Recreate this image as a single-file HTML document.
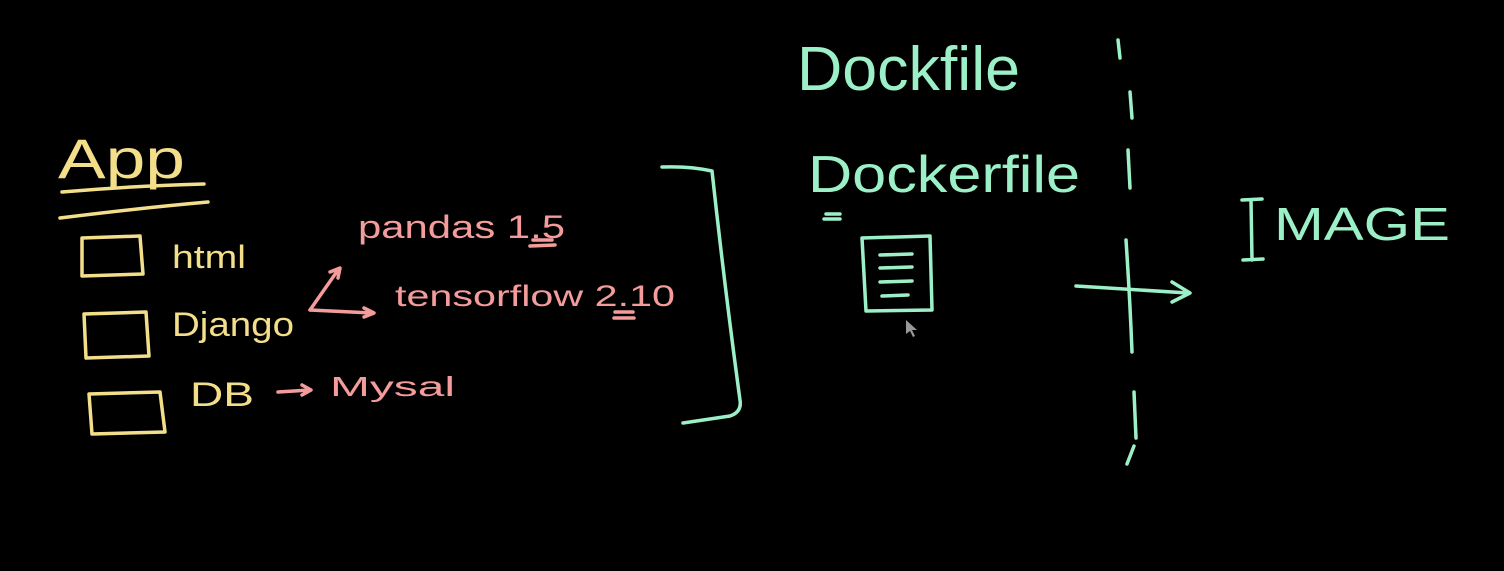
<!DOCTYPE html>
<html><head><meta charset="utf-8"><style>
html,body{margin:0;padding:0;background:#000;width:1504px;height:571px;overflow:hidden}
svg{display:block}
text{font-family:"Liberation Sans",sans-serif}
</style></head><body>
<svg width="1504" height="571" viewBox="0 0 1504 571" xmlns="http://www.w3.org/2000/svg">
<rect width="1504" height="571" fill="#000"/>
<g fill="none" stroke-linecap="round" stroke-linejoin="round" stroke-width="3.5">
<g stroke="#f3de8a">
<path d="M62 192 Q130 186 204 184"/>
<path d="M60 218 Q140 208 208 202"/>
<path d="M82 238 L140 236 L143 274 L82 276 Z"/>
<path d="M84 314 L146 312 L149 356 L86 358 Z"/>
<path d="M89 394 L160 392 L165 432 L92 434 Z"/>
</g>
<g stroke="#f49c9c">
<path d="M310 310 L338 270 M330 272 L340 268 L338 278"/>
<path d="M310 310 L372 313 M364 308 L374 313 L364 317"/>
<path d="M278 392 L310 390 M302 385 L311 390 L302 395"/>
<path d="M533 240 L552 240 M530 246 L555 245"/>
<path d="M615 312 L633 312 M614 318 L634 318"/>
</g>
<g stroke="#9cf0c8">
<path d="M662 167 Q690 166 712 171 Q725 290 740 400 Q742 412 730 416 L683 423"/>
<path d="M862 238 L930 236 L932 310 L866 311 Z"/>
<path d="M880 255 L912 254 M880 268 L912 267 M880 282 L912 281 M882 296 L908 295"/>
<path d="M826 214 L840 214 M824 219 L840 219"/>
<path d="M1118 40 L1120 58 M1130 92 L1132 118 M1128 150 L1130 188 M1126 240 Q1130 300 1132 352 M1134 392 L1136 438 M1134 446 L1127 464"/>
<path d="M1076 286 L1188 293 M1172 282 L1190 293 L1172 302"/>
<path d="M1242 200 L1262 199 M1251 200 L1252 260 M1243 260 L1263 259"/>
</g>
</g>
<g fill="#f3de8a">
<text x="58" y="178" font-size="56" textLength="127" lengthAdjust="spacingAndGlyphs">App</text>
<text x="172" y="268" font-size="32" textLength="74" lengthAdjust="spacingAndGlyphs">html</text>
<text x="172" y="336" font-size="34" textLength="122" lengthAdjust="spacingAndGlyphs">Django</text>
<text x="190" y="406" font-size="34" textLength="64" lengthAdjust="spacingAndGlyphs">DB</text>
</g>
<g fill="#f49c9c">
<text x="358" y="238" font-size="32" textLength="207" lengthAdjust="spacingAndGlyphs">pandas 1.5</text>
<text x="395" y="306" font-size="30" textLength="280" lengthAdjust="spacingAndGlyphs">tensorflow 2.10</text>
<text x="330" y="396" font-size="28" textLength="125" lengthAdjust="spacingAndGlyphs">Mysal</text>
</g>
<g fill="#9cf0c8">
<text x="797" y="90" font-size="62" textLength="223" lengthAdjust="spacingAndGlyphs">Dockfile</text>
<text x="808" y="192" font-size="52" textLength="272" lengthAdjust="spacingAndGlyphs">Dockerfile</text>
<text x="1274" y="240" font-size="46" textLength="176" lengthAdjust="spacingAndGlyphs">MAGE</text>
</g>
<path d="M906 320 L906 334 L910 331 L913 337 L915 336 L912 330 L917 330 Z" fill="#999"/>
</svg>
</body></html>
